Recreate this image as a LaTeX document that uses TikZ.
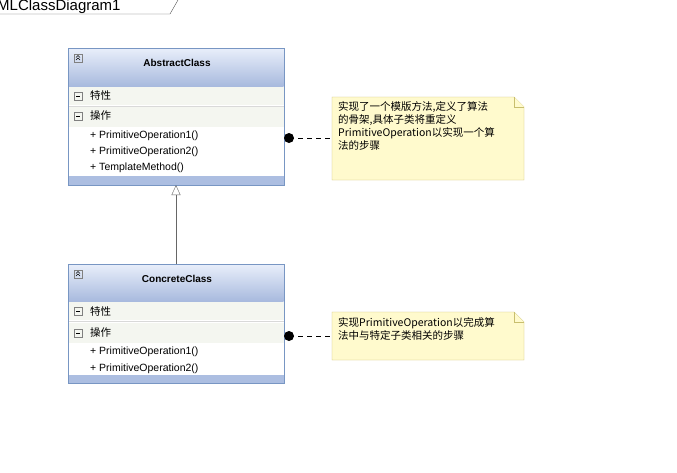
\documentclass[tikz,border=0pt]{standalone}
\usepackage{fontspec}
\setmainfont{Liberation Sans}
\newfontfamily\cjk{Noto Sans CJK SC}
\usetikzlibrary{arrows.meta}
\definecolor{bord}{RGB}{120,150,195}
\definecolor{htop}{RGB}{232,238,250}
\definecolor{hbot}{RGB}{168,186,222}
\definecolor{barc}{RGB}{172,190,225}
\definecolor{secc}{RGB}{244,246,240}
\definecolor{notef}{RGB}{255,250,205}
\definecolor{noted}{RGB}{200,190,110}
\tikzset{
 cls/.style={draw=bord, fill=white},
 hdr/.style={top color=htop, bottom color=hbot},
 sec/.style={fill=secc},
 bar/.style={fill=barc},
 mem/.style={anchor=west, font=\fontsize{10.5}{12}\selectfont, inner sep=0pt},
 note/.style={draw=noted, fill=notef},
 txt/.style={anchor=north west, font=\fontsize{10.5}{13}\selectfont\cjk, inner sep=0pt, align=left},
 link/.style={dashed, dash pattern=on 5pt off 4pt, thick}
}
\newcommand{\minusbox}[2]{\draw[gray] (#1-4,#2-4) rectangle (#1+4,#2+4); \draw (#1-2,#2)--(#1+2,#2);}
\newcommand{\collapsebox}[2]{\draw[gray] (#1-4,#2-4) rectangle (#1+4,#2+4); \draw (#1-2,#2-0.5)--(#1,#2-2.5)--(#1+2,#2-0.5) (#1-2,#2+2)--(#1,#2)--(#1+2,#2+2);}
\begin{document}
\begin{tikzpicture}[x=1pt,y=-1pt]
\useasboundingbox[fill=white] (0,0) rectangle (677,472);
% tab
\draw[gray!70!black] (0,14)--(170,14)--(178,0);
\node[anchor=west, font=\fontsize{15}{16}\selectfont, inner sep=0pt] (title) at (-3,7) {MLClassDiagram1};
% AbstractClass
\draw[cls] (68,48) rectangle (284,185);
\shade[hdr] (68.5,48.5) rectangle (283.5,86);
\fill[sec] (68.5,87) rectangle (283.5,105);
\fill[sec] (68.5,107) rectangle (283.5,127);
\fill[bar] (68.5,176) rectangle (283.5,184.5);
\draw[gray!30] (68.5,106)--(283.5,106);
\draw[cls, fill=none] (68,48) rectangle (284,185);
\collapsebox{78}{58}
\node[font=\bfseries\fontsize{10}{12}\selectfont] (a) at (177,63) {AbstractClass};
\minusbox{78}{96}\node[mem] (a1) at (90,96) {\cjk 特性};
\minusbox{78}{116}\node[mem] (a2) at (90,116) {\cjk 操作};
\node[mem] (a3) at (90,136) {+ PrimitiveOperation1()};
\node[mem] (a4) at (90,152) {+ PrimitiveOperation2()};
\node[mem] (a5) at (90,168) {+ TemplateMethod()};
\coordinate (atop) at (176,185);
% ConcreteClass
\draw[cls] (68,264) rectangle (284,383);
\shade[hdr] (68.5,264.5) rectangle (283.5,301);
\fill[sec] (68.5,302) rectangle (283.5,320);
\fill[sec] (68.5,323) rectangle (283.5,343);
\fill[bar] (68.5,375) rectangle (283.5,382.5);
\draw[gray!30] (68.5,321.5)--(283.5,321.5);
\draw[cls, fill=none] (68,264) rectangle (284,383);
\collapsebox{78}{274}
\node[font=\bfseries\fontsize{10}{12}\selectfont] (c) at (177,279) {ConcreteClass};
\minusbox{78}{311}\node[mem] (c1) at (90,311) {\cjk 特性};
\minusbox{78}{333}\node[mem] (c2) at (90,333) {\cjk 操作};
\node[mem] (c3) at (90,352) {+ PrimitiveOperation1()};
\node[mem] (c4) at (90,369) {+ PrimitiveOperation2()};
\coordinate (ctop) at (176,264);
\draw[gray!80!black, -{Triangle[open, length=10pt, width=9pt]}] (ctop)--(atop);
% notes
\draw[note] (332,97)--(514,97)--(524,107)--(524,180)--(332,180)--cycle;
\draw[note] (514,97)--(514,107)--(524,107);
\node[txt] (n1) at (338,101) {实现了一个模版方法,定义了算法\\的骨架,具体子类将重定义\\PrimitiveOperation以实现一个算\\法的步骤};
\draw[note] (332,312)--(514,312)--(524,322)--(524,360)--(332,360)--cycle;
\draw[note] (514,312)--(514,322)--(524,322);
\node[txt] (n2) at (338,317) {实现PrimitiveOperation以完成算\\法中与特定子类相关的步骤};
\coordinate (d1) at (289,138);
\coordinate (d2) at (289,336);
\fill (d1) circle (5); \fill (d2) circle (5);
\draw[link] (d1)--(332,138);
\draw[link] (d2)--(332,336);
\end{tikzpicture}
\end{document}
